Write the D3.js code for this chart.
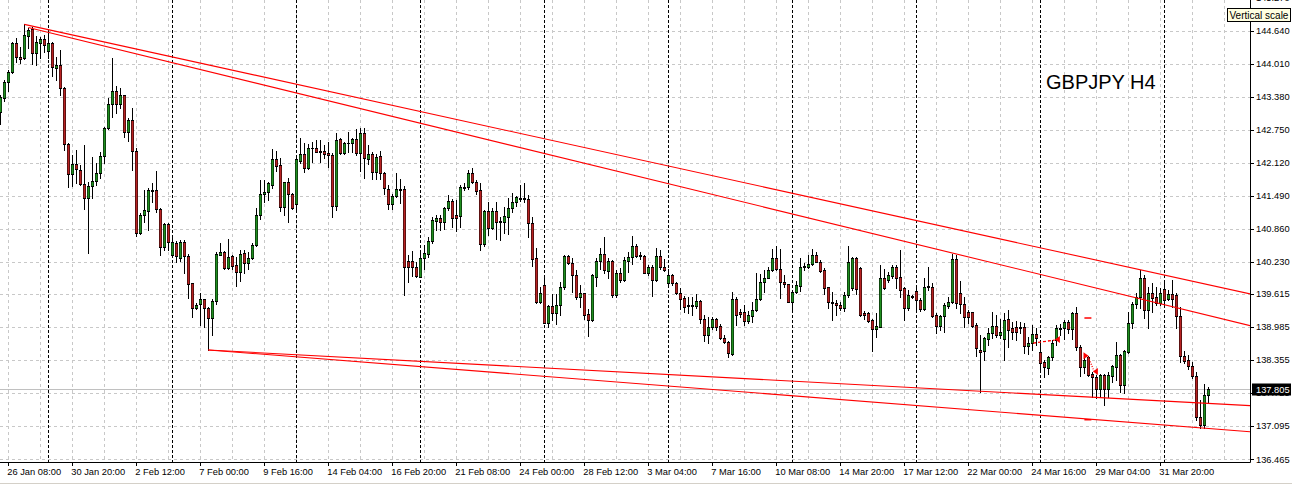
<!DOCTYPE html>
<html><head><meta charset="utf-8">
<script src="https://cdn.jsdelivr.net/npm/d3@7"></script>
<style>body{margin:0;background:#fff;} svg{display:block;}</style>
</head><body><svg id="c" width="1292" height="484"></svg>
<script>
// ---------- DATA (GBPJPY H4) ----------
const open=[143.09,143.36,143.66,143.85,144.40,144.14,144.12,144.54,144.67,144.21,
144.40,144.48,144.25,144.40,143.93,143.99,143.55,142.48,141.91,142.10,
141.98,141.72,141.45,141.68,141.77,141.93,142.25,142.78,143.24,143.49,
143.24,143.41,142.71,142.94,142.35,140.78,141.12,141.20,141.59,141.60,
141.24,140.51,140.95,140.36,140.59,140.30,140.61,140.34,139.82,139.35,
139.43,139.52,139.35,139.16,139.48,140.36,140.42,140.11,140.34,140.17,
140.04,140.40,140.21,140.30,140.55,141.12,141.53,141.56,141.70,142.19,
142.08,141.28,141.75,141.52,141.33,142.15,142.29,142.02,142.40,142.40,
142.34,142.34,142.31,142.27,141.30,142.57,142.31,142.49,142.50,142.57,
142.31,142.69,142.19,142.29,141.95,142.25,141.92,141.63,141.33,141.49,
141.62,141.63,140.25,140.25,140.13,139.95,140.31,140.39,140.63,141.01,
141.07,140.99,141.25,141.39,141.12,141.11,141.64,141.66,141.92,141.76,
141.60,140.57,141.20,140.88,141.20,141.01,140.99,141.09,141.25,141.37,
141.43,141.45,141.43,140.97,140.30,139.47,139.79,139.07,139.39,139.26,
139.41,139.75,140.34,140.21,139.98,139.56,139.63,139.24,139.12,139.95,
140.24,140.38,140.06,140.25,139.60,140.02,139.89,140.25,140.32,140.53,
140.36,140.34,140.02,140.13,139.89,140.34,140.13,139.83,139.98,139.83,
139.64,139.55,139.38,139.41,139.38,139.48,139.14,138.84,138.99,139.14,
139.01,138.78,138.71,138.48,139.53,139.27,139.27,139.11,139.19,139.31,
139.52,139.84,139.93,140.08,140.30,140.09,139.84,139.80,139.47,139.65,
139.78,140.13,140.14,140.19,140.36,140.23,140.08,139.76,139.47,139.44,
139.41,139.36,139.60,139.73,140.30,140.12,139.25,139.25,139.12,138.95,
138.99,139.92,139.89,139.97,140.14,139.95,139.73,139.36,139.58,139.67,
139.50,139.33,139.77,139.76,139.22,139.01,139.19,139.38,139.46,140.29,
139.63,139.42,139.28,139.27,139.03,138.55,138.53,138.76,138.87,139.01,
138.84,138.76,139.15,138.96,138.98,138.98,138.98,138.63,138.68,138.86,
138.51,138.33,138.21,138.42,138.75,138.95,138.96,139.08,138.95,139.26,
138.61,138.22,138.42,138.09,138.04,137.81,138.07,137.81,138.05,138.23,
138.45,137.88,138.52,139.07,139.43,139.56,139.92,139.31,139.63,139.56,
139.44,139.71,139.53,139.62,139.60,139.20,138.43,138.36,138.24,138.05,
137.27,137.12,137.69];
const high=[143.41,143.70,143.89,144.42,144.50,144.33,144.76,144.69,144.71,144.54,
144.52,144.56,144.60,144.42,144.14,144.27,143.57,142.50,142.27,142.37,
142.08,142.46,141.75,142.23,142.12,142.33,142.80,143.36,144.12,143.59,
143.55,143.42,142.97,143.17,142.40,141.16,141.60,141.64,141.74,141.96,
141.26,140.97,140.97,140.74,140.62,140.65,140.65,140.38,139.83,139.45,
139.64,139.53,139.37,139.52,140.42,140.59,140.44,140.67,140.36,140.32,
140.46,140.46,140.42,140.59,141.26,141.79,141.79,141.75,142.38,142.35,
142.21,141.76,141.83,141.54,142.22,142.59,142.49,142.47,142.52,142.56,
142.56,142.46,142.52,142.30,142.69,142.60,142.52,142.71,142.60,142.77,
142.78,142.78,142.46,142.33,142.29,142.35,141.94,141.70,141.52,141.92,
141.81,141.68,140.37,140.44,140.23,140.42,140.55,140.71,141.09,141.12,
141.12,141.28,141.51,141.43,141.41,141.70,141.73,141.98,142.02,141.79,
141.74,141.22,141.37,141.25,141.37,141.09,141.27,141.44,141.54,141.49,
141.70,141.74,141.51,141.09,140.50,139.75,139.96,139.41,139.62,139.62,
139.85,140.36,140.37,140.30,140.08,139.79,139.64,139.33,139.99,140.30,
140.49,140.71,140.30,140.26,140.08,140.11,140.32,140.42,140.72,140.58,
140.42,140.36,140.17,140.17,140.49,140.46,140.28,140.09,140.00,139.85,
139.73,139.58,139.57,139.57,139.62,139.50,139.22,139.18,139.18,139.16,
139.05,138.84,138.73,139.66,139.56,139.34,139.41,139.29,139.47,140.02,
139.99,140.08,140.14,140.48,140.54,140.48,139.98,139.81,139.69,139.87,
140.31,140.20,140.36,140.48,140.41,140.27,140.11,139.76,139.65,139.50,
139.47,139.65,140.54,140.33,140.33,140.14,139.29,139.28,139.15,139.25,
140.17,140.09,140.04,140.18,140.17,140.46,139.76,139.69,139.60,139.73,
139.54,139.93,140.14,139.82,139.25,139.22,139.44,139.57,140.39,140.36,
139.87,139.57,139.31,139.28,139.06,138.84,138.80,138.96,139.27,139.22,
139.15,139.26,139.31,139.08,139.10,139.08,139.07,138.80,139.03,138.97,
138.68,138.36,138.43,138.74,139.03,139.04,139.12,139.12,139.27,139.37,
138.65,138.42,138.44,138.13,138.07,138.10,138.10,138.13,138.26,138.70,
138.47,138.55,139.27,139.47,139.64,140.08,139.98,139.75,139.83,139.75,
139.73,139.89,139.70,139.89,139.64,139.37,138.53,138.45,138.32,138.13,
137.60,137.90,137.85];
const low=[142.86,143.30,143.49,143.83,144.04,144.02,144.10,144.31,144.00,143.99,
144.12,144.23,144.12,143.78,143.70,143.41,142.37,141.66,141.68,141.74,
141.70,141.24,140.40,141.45,141.70,141.83,142.12,142.77,142.99,143.07,
143.17,142.61,142.54,141.98,140.72,140.77,140.99,140.84,141.37,141.18,
140.36,140.46,140.46,140.32,140.23,140.24,140.02,139.54,139.18,139.34,
139.03,138.99,138.55,138.84,139.43,140.36,140.10,140.09,140.10,139.77,
139.87,140.02,140.10,140.29,140.54,141.05,141.37,141.41,141.64,141.96,
141.20,141.12,140.99,141.24,141.24,142.12,141.95,142.00,142.14,142.33,
142.14,142.22,142.04,141.09,141.22,142.29,142.29,142.32,142.32,142.27,
141.96,141.83,142.09,141.81,141.81,141.81,141.52,141.24,141.24,141.47,
141.35,139.60,139.84,139.96,139.94,139.94,140.09,140.32,140.60,140.84,
140.84,140.86,141.22,140.90,140.82,140.90,141.60,141.62,141.73,141.52,
140.46,140.54,140.74,140.86,140.67,140.65,140.78,140.76,141.19,141.30,
141.40,141.38,140.71,140.15,139.45,139.45,139.06,138.99,139.12,139.04,
139.22,139.71,140.19,139.66,139.52,139.37,139.14,138.82,139.11,139.77,
140.09,140.02,139.92,139.57,139.56,139.85,139.87,140.04,140.19,140.32,
140.28,140.02,139.98,139.58,139.87,140.09,140.06,139.77,139.79,139.62,
139.33,139.28,139.26,139.22,139.35,139.06,138.73,138.69,138.95,138.93,
138.76,138.68,138.41,138.46,139.03,139.18,139.03,139.06,139.08,139.29,
139.50,139.66,139.92,140.06,140.08,139.54,139.76,139.46,139.29,139.63,
139.68,140.08,140.11,140.18,140.22,140.03,139.61,139.36,139.12,139.22,
139.31,139.29,139.57,139.70,139.61,139.19,139.14,139.09,138.53,138.80,
138.99,139.71,139.85,139.93,139.73,139.57,139.12,139.31,139.54,139.28,
139.29,139.31,139.69,139.18,138.87,138.93,138.90,139.36,139.44,139.36,
139.25,138.99,139.06,138.99,138.44,137.75,138.36,138.65,138.77,138.80,
138.77,138.36,138.61,138.76,138.74,138.87,138.49,138.47,138.55,138.65,
138.17,138.03,138.09,138.36,138.65,138.84,138.76,138.87,138.76,138.55,
138.05,138.11,138.05,137.65,137.64,137.66,137.50,137.66,137.94,137.98,
137.75,137.73,138.49,138.97,139.35,139.35,139.16,138.97,139.28,139.41,
139.41,139.41,139.50,139.37,138.97,138.32,138.30,138.19,138.02,137.22,
137.06,137.06,137.54];
const close=[143.37,143.66,143.85,144.40,144.14,144.10,144.56,144.65,144.21,144.42,
144.48,144.37,144.40,143.95,143.99,143.55,142.48,141.91,142.10,142.00,
141.72,141.45,141.68,141.77,141.93,142.25,142.78,143.24,143.49,143.24,
143.41,142.71,142.94,142.35,140.78,141.12,141.22,141.60,141.60,141.24,
140.51,140.95,140.61,140.61,140.34,140.61,140.34,139.81,139.35,139.41,
139.52,139.35,139.16,139.48,140.38,140.42,140.11,140.32,140.15,140.04,
140.38,140.21,140.30,140.55,141.12,141.53,141.56,141.74,142.19,142.06,
141.28,141.75,141.53,141.26,142.19,142.29,142.02,142.40,142.41,142.33,
142.33,142.29,142.27,141.30,142.56,142.31,142.50,142.50,142.57,142.31,
142.69,142.21,142.29,141.95,142.23,141.92,141.64,141.33,141.49,141.62,
141.61,140.13,140.13,140.13,139.96,140.31,140.40,140.63,141.03,141.07,
140.99,141.25,141.39,141.07,141.07,141.66,141.66,141.92,141.76,141.58,
140.57,141.20,140.88,141.20,140.99,140.99,141.11,141.25,141.37,141.46,
141.45,141.43,140.97,140.29,139.47,139.64,139.07,139.39,139.26,139.41,
139.75,140.34,140.21,139.98,139.56,139.63,139.22,139.12,139.98,140.25,
140.38,140.08,140.25,139.60,140.02,139.89,140.27,140.32,140.53,140.34,
140.34,140.02,140.13,139.89,140.34,140.13,140.08,139.98,139.82,139.64,
139.53,139.37,139.41,139.39,139.48,139.14,138.84,138.99,139.14,138.99,
138.78,138.71,138.49,139.52,139.22,139.23,139.11,139.22,139.31,139.52,
139.85,139.92,140.08,140.30,140.09,139.85,139.80,139.47,139.65,139.79,
140.13,140.16,140.19,140.36,140.23,140.06,139.74,139.46,139.44,139.41,
139.36,139.60,140.22,140.30,139.71,139.22,139.22,139.10,138.95,139.01,
139.92,139.74,139.98,140.14,139.93,139.69,139.36,139.60,139.56,139.50,
139.33,139.76,139.75,139.20,139.01,139.19,139.40,139.47,140.29,139.44,
139.42,139.18,139.18,139.01,138.58,138.52,138.77,138.87,139.01,138.84,
138.90,139.12,138.94,138.90,138.90,138.96,138.63,138.68,138.86,138.78,
138.30,138.23,138.42,138.69,138.97,138.97,139.08,138.95,139.26,138.61,
138.22,138.36,138.07,138.04,137.81,138.07,137.81,138.07,138.24,138.45,
137.88,138.53,139.07,139.43,139.56,139.92,139.31,139.64,139.54,139.44,
139.64,139.50,139.62,139.52,139.20,138.43,138.34,138.24,138.05,137.27,
137.12,137.69,137.805];

const timeLabels=["26 Jan 08:00","30 Jan 20:00","2 Feb 12:00","7 Feb 00:00","9 Feb 16:00","14 Feb 04:00","16 Feb 20:00","21 Feb 08:00","24 Feb 00:00","28 Feb 12:00","3 Mar 04:00","7 Mar 16:00","10 Mar 08:00","14 Mar 20:00","17 Mar 12:00","22 Mar 00:00","24 Mar 16:00","29 Mar 04:00","31 Mar 20:00"];
const labelBars=timeLabels.map((d,i)=>2+16*i);
const priceTicks=[145.270,144.640,144.010,143.380,142.750,142.120,141.490,140.860,140.230,139.615,138.985,138.355,137.725,137.095,136.465];
const lastPrice=137.805;
const separatorBars=[12,43,74,105,136,167,198,229,260,291];
const gridBars=d3.range(2,311,8);
// trend lines: anchor bar/price pairs (rays extended to the right edge)
const trendLines=[
 {b1:6,p1:144.76,b2:285,p2:140.08},
 {b1:7,p1:144.70,b2:238,p2:140.40},
 {b1:52,p1:138.55,b2:300,p2:137.54},
 {b1:52,p1:138.55,b2:300,p2:137.066}
];
// trade history marks
const tradeLines=[{b1:258.2,p1:138.68,b2:263.6,p2:138.74,dash:"3,2"},{b1:272.0,p1:138.42,b2:273.4,p2:138.15,dash:"1,1.5"}];
const tradeArrows=[{b:264.4,p:138.75,dir:-1},{b:273.9,p:138.14,dir:-1},{b:271.3,p:138.44,dir:1}];
const tradeDashes=[{b:271.9,p:139.16},{b:271.9,p:137.22}];

// ---------- DRAW ----------
const svg=d3.select("#c");
const plotR=1250, plotB=462;
const x=d3.scaleLinear().domain([0,302]).range([0.3,1208.3]);
const y=d3.scaleLinear().domain([136.465,144.640]).range([459.3,30.7]);
const FONT="'Liberation Sans', Arial, sans-serif";

svg.append("rect").attr("width",1292).attr("height",484).attr("fill","#fff");
svg.append("defs").append("clipPath").attr("id","clip").append("rect")
  .attr("x",0).attr("y",0).attr("width",plotR).attr("height",plotB);
const g=svg.append("g").attr("clip-path","url(#clip)");

// grid
g.selectAll(".hg").data(priceTicks).join("line")
  .attr("x1",0).attr("x2",plotR)
  .attr("y1",d=>Math.round(y(d))+0.5).attr("y2",d=>Math.round(y(d))+0.5)
  .attr("stroke","#c8c8c8").attr("stroke-dasharray","3,3");
g.selectAll(".vg").data(gridBars.filter(b=>x(b)<plotR)).join("line")
  .attr("x1",d=>Math.round(x(d))+0.5).attr("x2",d=>Math.round(x(d))+0.5)
  .attr("y1",0).attr("y2",plotB)
  .attr("stroke","#c8c8c8").attr("stroke-dasharray","3,3");
// period separators
g.selectAll(".sep").data(separatorBars).join("line")
  .attr("x1",d=>Math.round(x(d))+0.5).attr("x2",d=>Math.round(x(d))+0.5)
  .attr("y1",0).attr("y2",plotB)
  .attr("stroke","#000").attr("stroke-dasharray","3,2");
// bid line
g.append("line").attr("x1",0).attr("x2",plotR)
  .attr("y1",Math.round(y(lastPrice))+0.5).attr("y2",Math.round(y(lastPrice))+0.5)
  .attr("stroke","#c0c0c0");

// candles
const idx=d3.range(close.length);
const cg=g.append("g");
idx.forEach(i=>{
  const col=Math.round(x(i));
  const cx=col+0.5;
  cg.append("line").attr("x1",cx).attr("x2",cx)
    .attr("y1",Math.round(y(high[i]))).attr("y2",Math.round(y(low[i]))+1)
    .attr("stroke","#000").attr("stroke-width",1);
  const top=Math.round(y(Math.max(open[i],close[i])));
  const bot=Math.round(y(Math.min(open[i],close[i])));
  const up=close[i]>=open[i];
  cg.append("rect").attr("x",col-1).attr("y",top).attr("width",3).attr("height",Math.max(1,bot-top+1)).attr("fill","#000");
  if(bot-top>=2){
    cg.append("rect").attr("x",col-0.5).attr("y",top+1).attr("width",2).attr("height",bot-top-1)
      .attr("fill",up?"#1f8f1f":"#b82222");
  }
});

// trend lines
trendLines.forEach(t=>{
  const slope=(t.p2-t.p1)/(t.b2-t.b1);
  const bEnd=x.invert(plotR+2);
  g.append("line").attr("x1",x(t.b1)).attr("y1",y(t.p1))
    .attr("x2",x(bEnd)).attr("y2",y(t.p1+slope*(bEnd-t.b1)))
    .attr("stroke","#ff0000").attr("stroke-width",1.1);
});
// trade marks
tradeLines.forEach(t=>{
  g.append("line").attr("x1",x(t.b1)).attr("y1",y(t.p1)).attr("x2",x(t.b2)).attr("y2",y(t.p2))
   .attr("stroke","#ff0000").attr("stroke-width",1.3).attr("stroke-dasharray",t.dash);
});
tradeArrows.forEach(a=>{
  const ax=x(a.b), ay=y(a.p);
  g.append("path").attr("d",`M${ax+a.dir*3},${ay} L${ax-a.dir*2},${ay-3.5} L${ax-a.dir*2},${ay+3.5} Z`).attr("fill","#ff0000");
});
tradeDashes.forEach(d=>{
  g.append("line").attr("x1",x(d.b)-3.5).attr("x2",x(d.b)+3.5).attr("y1",y(d.p)).attr("y2",y(d.p))
   .attr("stroke","#ff0000").attr("stroke-width",1.5);
});

// title
svg.append("text").attr("x",1046).attr("y",89.3).attr("font-family",FONT).attr("font-size",20)
  .attr("fill","#000").text("GBPJPY H4");

// axes
svg.append("line").attr("x1",plotR+0.5).attr("x2",plotR+0.5).attr("y1",0).attr("y2",plotB+0.5).attr("stroke","#000");
svg.append("line").attr("x1",0).attr("x2",plotR+0.5).attr("y1",plotB+0.5).attr("y2",plotB+0.5).attr("stroke","#000");

// right price labels
svg.selectAll(".pt").data(priceTicks).join("line")
  .attr("x1",plotR).attr("x2",plotR+4)
  .attr("y1",d=>Math.round(y(d))+0.5).attr("y2",d=>Math.round(y(d))+0.5).attr("stroke","#000");
svg.selectAll(".pl").data(priceTicks).join("text")
  .attr("x",1256).attr("y",d=>y(d)+3.2).attr("font-family",FONT).attr("font-size",9.3).attr("fill","#000")
  .text(d=>d.toFixed(3));
// last price box
svg.append("rect").attr("x",1252).attr("y",Math.round(y(lastPrice))-5.5).attr("width",39).attr("height",12).attr("fill","#000");
svg.append("text").attr("x",1256).attr("y",y(lastPrice)+3.5).attr("font-family",FONT).attr("font-size",9.3)
  .attr("fill","#fff").text(lastPrice.toFixed(3));

// bottom time labels
svg.selectAll(".tt").data(labelBars).join("line")
  .attr("x1",d=>Math.round(x(d))+0.5).attr("x2",d=>Math.round(x(d))+0.5)
  .attr("y1",plotB).attr("y2",plotB+4).attr("stroke","#000");
svg.selectAll(".tl").data(timeLabels).join("text")
  .attr("x",(d,i)=>x(labelBars[i])-1).attr("y",474.5).attr("font-family",FONT).attr("font-size",9.3).attr("fill","#000")
  .text(d=>d);
svg.append("line").attr("x1",0).attr("x2",1292).attr("y1",483.5).attr("y2",483.5).attr("stroke","#d4d0c8");

// tooltip
svg.append("rect").attr("x",1227.5).attr("y",8.5).attr("width",63).attr("height",13).attr("fill","#ffffe1").attr("stroke","#000");
svg.append("text").attr("x",1229.5).attr("y",18.5).attr("font-family",FONT).attr("font-size",10).attr("fill","#000").text("Vertical scale");
</script></body></html>
